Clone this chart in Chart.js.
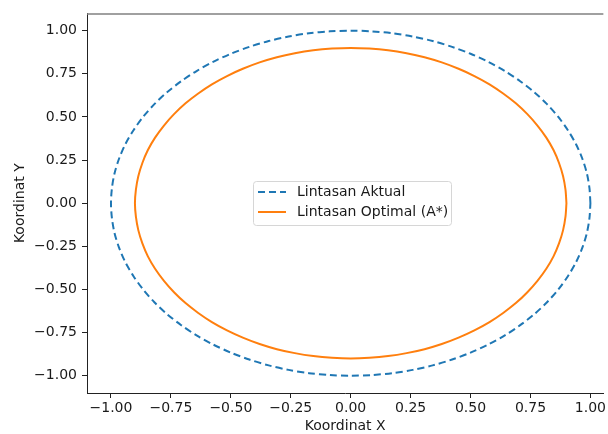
<!DOCTYPE html>
<html>
<head>
<meta charset="utf-8">
<script src="https://cdn.jsdelivr.net/npm/chart.js@4"></script>
<style>
  html, body { margin: 0; padding: 0; background: #fff; overflow: hidden; }
  #wrap { width: 608px; height: 434px; }
</style>
</head>
<body>
<div id="wrap"><canvas id="chart_lintasan"></canvas></div>
<script>
// points, every 5 degrees round each path
const aktualX = [
    1.000, 0.996, 0.985, 0.966, 0.940, 0.906, 0.866, 0.819, 0.766, 0.707, 0.643, 0.574, 0.500, 0.423, 0.342, 0.259, 0.174, 0.087, 0.000,
    -0.087, -0.174, -0.259, -0.342, -0.423, -0.500, -0.574, -0.643, -0.707, -0.766, -0.819, -0.866, -0.906, -0.940, -0.966, -0.985, -0.996, -1.000,
    -0.996, -0.985, -0.966, -0.940, -0.906, -0.866, -0.819, -0.766, -0.707, -0.643, -0.574, -0.500, -0.423, -0.342, -0.259, -0.174, -0.087, 0.000,
    0.087, 0.174, 0.259, 0.342, 0.423, 0.500, 0.574, 0.643, 0.707, 0.766, 0.819, 0.866, 0.906, 0.940, 0.966, 0.985, 0.996, 1.000];
const aktualY = [
    0.000, 0.087, 0.174, 0.259, 0.342, 0.423, 0.500, 0.574, 0.643, 0.707, 0.766, 0.819, 0.866, 0.906, 0.940, 0.966, 0.985, 0.996, 1.000,
    0.996, 0.985, 0.966, 0.940, 0.906, 0.866, 0.819, 0.766, 0.707, 0.643, 0.574, 0.500, 0.423, 0.342, 0.259, 0.174, 0.087, 0.000,
    -0.087, -0.174, -0.259, -0.342, -0.423, -0.500, -0.574, -0.643, -0.707, -0.766, -0.819, -0.866, -0.906, -0.940, -0.966, -0.985, -0.996, -1.000,
    -0.996, -0.985, -0.966, -0.940, -0.906, -0.866, -0.819, -0.766, -0.707, -0.643, -0.574, -0.500, -0.423, -0.342, -0.259, -0.174, -0.087, 0.000];
const optimalX = [
    0.900, 0.896, 0.886, 0.869, 0.846, 0.816, 0.779, 0.737, 0.689, 0.636, 0.579, 0.516, 0.450, 0.380, 0.308, 0.233, 0.156, 0.078, 0.000,
    -0.078, -0.156, -0.233, -0.308, -0.380, -0.450, -0.516, -0.579, -0.636, -0.689, -0.737, -0.779, -0.816, -0.846, -0.869, -0.886, -0.896, -0.900,
    -0.896, -0.886, -0.869, -0.846, -0.816, -0.779, -0.737, -0.689, -0.636, -0.579, -0.516, -0.450, -0.380, -0.308, -0.233, -0.156, -0.078, 0.000,
    0.078, 0.156, 0.233, 0.308, 0.380, 0.450, 0.516, 0.579, 0.636, 0.689, 0.737, 0.779, 0.816, 0.846, 0.869, 0.886, 0.896, 0.900];
const optimalY = [
    0.000, 0.078, 0.156, 0.233, 0.308, 0.380, 0.450, 0.516, 0.579, 0.636, 0.689, 0.737, 0.779, 0.816, 0.846, 0.869, 0.886, 0.896, 0.900,
    0.896, 0.886, 0.869, 0.846, 0.816, 0.779, 0.737, 0.689, 0.636, 0.579, 0.516, 0.450, 0.380, 0.308, 0.233, 0.156, 0.078, 0.000,
    -0.078, -0.156, -0.233, -0.308, -0.380, -0.450, -0.516, -0.579, -0.636, -0.689, -0.737, -0.779, -0.816, -0.846, -0.869, -0.886, -0.896, -0.900,
    -0.896, -0.886, -0.869, -0.846, -0.816, -0.779, -0.737, -0.689, -0.636, -0.579, -0.516, -0.450, -0.380, -0.308, -0.233, -0.156, -0.078, 0.000];
const seriesLabels = ['Lintasan Aktual', 'Lintasan Optimal (A*)'];
const xTicks = [-1.00, -0.75, -0.50, -0.25, 0.00, 0.25, 0.50, 0.75, 1.00];
const yTicks = [-1.00, -0.75, -0.50, -0.25, 0.00, 0.25, 0.50, 0.75, 1.00];

const FONT = 'DejaVu Sans';
const TEXT = '#1a1a1a';

// legend box drawn in the middle of the plot, like matplotlib's loc="center"
const centerLegend = {
    id: 'centerLegend',
    afterDraw(chart) {
        const ctx = chart.ctx;
        const a = chart.chartArea;
        // top spine
        ctx.save();
        ctx.strokeStyle = '#808080';
        ctx.lineWidth = 1.5;
        ctx.beginPath();
        ctx.moveTo(a.left, a.top + 0.5);
        ctx.lineTo(a.right, a.top + 0.5);
        ctx.stroke();

        const x0 = 253, y0 = 181, w = 198, h = 44;
        ctx.fillStyle = 'rgba(255,255,255,0.8)';
        ctx.strokeStyle = '#d6d6d6';
        ctx.lineWidth = 1;
        ctx.beginPath();
        ctx.roundRect(x0 + 0.5, y0 + 0.5, w, h, 3);
        ctx.fill();
        ctx.stroke();

        ctx.font = '14px "' + FONT + '"';
        ctx.textBaseline = 'middle';
        chart.data.datasets.forEach((ds, i) => {
            const cy = y0 + 11 + i * 20;
            ctx.strokeStyle = ds.borderColor;
            ctx.lineWidth = 2;
            ctx.setLineDash(ds.borderDash || []);
            ctx.beginPath();
            ctx.moveTo(x0 + 5, cy);
            ctx.lineTo(x0 + 33, cy);
            ctx.stroke();
            ctx.setLineDash([]);
            ctx.fillStyle = TEXT;
            ctx.fillText(ds.label, x0 + 44, cy);
        });
        ctx.restore();
    }
};

new Chart(document.getElementById('chart_lintasan'), {
    type: 'scatter',
    data: {
        datasets: [
            {
                label: seriesLabels[0],
                data: aktualX.map((x, i) => ({ x: x, y: aktualY[i] })),
                showLine: true, borderColor: '#1f77b4', borderWidth: 2, borderDash: [7, 4],
                pointRadius: 0, tension: 0.3, fill: false
            },
            {
                label: seriesLabels[1],
                data: optimalX.map((x, i) => ({ x: x, y: optimalY[i] })),
                showLine: true, borderColor: '#ff7f0e', borderWidth: 2,
                pointRadius: 0, tension: 0.3, fill: false
            }
        ]
    },
    options: {
        responsive: true,
        maintainAspectRatio: false,
        animation: false,
        layout: { padding: { top: 13, right: 0, left: 0, bottom: 0 } },
        scales: {
            x: {
                type: 'linear',
                min: -1.1,
                max: 1.054,
                afterFit: s => { s.height = 41; },
                afterBuildTicks: s => { s.ticks = xTicks.map(v => ({ value: v })); },
                grid: { drawOnChartArea: false, tickLength: 5, tickColor: '#222', tickWidth: 1 },
                border: { color: '#222', width: 1 },
                ticks: {
                    color: TEXT, padding: 2, maxRotation: 0,
                    font: { family: FONT, size: 14 },
                    callback: v => v.toFixed(2).replace('-', '\u2212')
                },
                title: {
                    display: true, text: 'Koordinat X', color: TEXT,
                    font: { family: FONT, size: 14 }, padding: { top: 0, bottom: -1 }
                }
            },
            y: {
                type: 'linear',
                min: -1.1,
                max: 1.1,
                afterFit: s => { s.width = 87; },
                afterBuildTicks: s => { s.ticks = yTicks.map(v => ({ value: v })); },
                grid: { drawOnChartArea: false, tickLength: 5, tickColor: '#222', tickWidth: 1 },
                border: { color: '#222', width: 1 },
                ticks: {
                    color: TEXT, padding: 5,
                    font: { family: FONT, size: 14 },
                    callback: v => v.toFixed(2).replace('-', '\u2212')
                },
                title: {
                    display: true, text: 'Koordinat Y', color: TEXT,
                    font: { family: FONT, size: 14 }, padding: { top: 12, bottom: 0 }
                }
            }
        },
        plugins: {
            legend: { display: false },
            tooltip: { enabled: false }
        }
    },
    plugins: [centerLegend]
});
</script>
</body>
</html>
